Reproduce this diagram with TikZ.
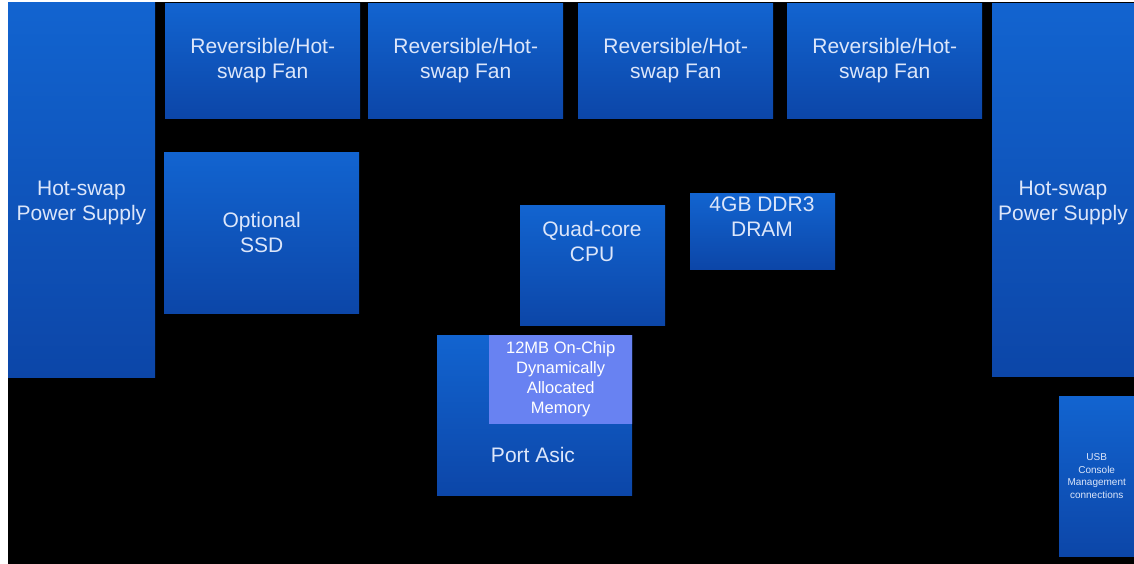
\documentclass[tikz,border=0pt]{standalone}
\usepackage{fontspec}
\setmainfont{Liberation Sans}
\usetikzlibrary{positioning}

\definecolor{boxtop}{RGB}{18,100,208}
\definecolor{boxbot}{RGB}{12,70,168}
\definecolor{memfill}{RGB}{104,130,242}
\definecolor{boxtext}{RGB}{220,230,250}

\begin{document}
\begin{tikzpicture}[
    x=1pt, y=-1pt,
    block/.style={anchor=north west, inner sep=0pt, top color=boxtop, bottom color=boxbot,
                  text=boxtext, align=center, font=\fontsize{21}{25}\selectfont},
    memblock/.style={block, fill=memfill, top color=memfill, bottom color=memfill,
                     text=white, font=\fontsize{16.5}{20}\selectfont},
    lbl/.style={text=boxtext, align=center, font=\fontsize{21}{25}\selectfont},
    tiny/.style={font=\fontsize{10}{12.5}\selectfont}
]

% Frame
\useasboundingbox (0,0) rectangle (1134,564);
\fill[white] (0,0) rectangle (1134,564);
\fill[black] (8,2) rectangle (1134,564);

% Power supplies
\node[block, minimum width=147, minimum height=375] (psuL) at (8,2) {};
\node[lbl] (psuLtext) at (81.5,203) {Hot-swap\\Power Supply};
\node[block, minimum width=142, minimum height=373] (psuR) at (992,3) {};
\node[lbl] (psuRtext) at (1063,203) {Hot-swap\\Power Supply};

% Fans
\foreach \x/\n in {165/1, 368/2, 578/3, 787/4}
    \node[block, minimum width=195, minimum height=115] (fan\n) at (\x,3) {Reversible/Hot-\\swap Fan};

% Storage
\node[block, minimum width=195, minimum height=161] (ssd) at (164,152) {Optional\\SSD};

% CPU and memory
\node[block, minimum width=145, minimum height=120] (cpu) at (520,205) {};
\node[lbl] (cputext) at (592,241) {Quad-core\\CPU};
\node[block, minimum width=145, minimum height=76] (dram) at (690,193) {};
\node[lbl] (dramtext) at (762,217) {4GB DDR3\\DRAM};

% Port ASIC
\node[block, minimum width=195, minimum height=160] (asic) at (437,335) {};
\node[lbl] (asictext) at (533,455) {Port Asic};
\node[memblock, minimum width=143, minimum height=88] (onchip) at (489,335) {12MB On-Chip\\Dynamically\\Allocated\\Memory};

% Console
\node[block, tiny, minimum width=75, minimum height=160] (usb) at (1059,396) {USB\\Console\\Management\\connections};

\end{tikzpicture}
\end{document}
